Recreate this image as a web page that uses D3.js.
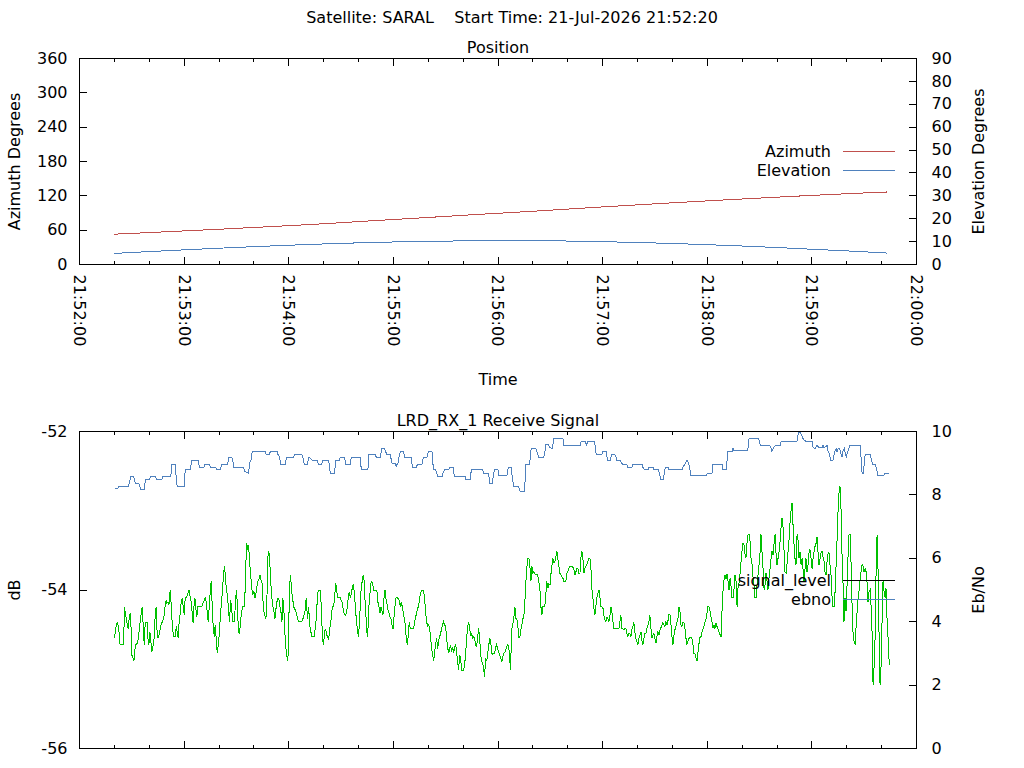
<!DOCTYPE html>
<html>
<head>
<meta charset="utf-8">
<script src="https://cdn.jsdelivr.net/npm/d3@7"></script>
<style>
  html, body { margin: 0; padding: 0; background: #fff; }
  svg { display: block; font-family: "DejaVu Sans", sans-serif; font-size: 16px; }
  .line { fill: none; stroke-width: 1; shape-rendering: crispEdges; }
  .tick line { stroke: #000; shape-rendering: crispEdges; }
  .frame { fill: none; stroke: #000; shape-rendering: crispEdges; }
</style>
</head>
<body>
<svg id="chart" width="1024" height="768"></svg>
<script>
const satellite = 'SARAL';
const startTime = '21-Jul-2026 21:52:20';
const receiver = 'LRD_RX_1';
const baseTime = new Date(2026, 6, 21, 21, 52, 0);
const timeDomain = [0, 480]; // seconds after 21:52:00

// pass geometry, seconds after 21:52:00
const posSeconds = [20, 40, 60, 80, 100, 120, 140, 160, 180, 200, 220, 240, 260, 280, 300, 320, 340, 360, 380, 400, 420, 440, 460, 463];
const azimuth = [53.0, 55.8, 58.7, 61.6, 64.7, 67.9, 71.2, 75.0, 78.6, 82.2, 86.0, 89.5, 93.0, 96.8, 100.6, 104.2, 107.8, 111.2, 114.5, 117.7, 120.8, 123.7, 126.3, 126.7];
const elevation = [4.85, 5.65, 6.39, 7.12, 7.79, 8.42, 8.98, 9.46, 9.84, 10.1, 10.33, 10.48, 10.48, 10.25, 9.96, 9.62, 9.19, 8.65, 8.08, 7.41, 6.67, 5.94, 5.15, 5.0];

// receive signal, [seconds after 21:52:00, value]
const signalLevel = [
  [20.1,-54.60],[21.0,-54.46],[21.6,-54.41],[22.4,-54.46],[23.0,-54.63],[23.3,-54.69],[25.3,-54.69],[25.8,-54.21],[26.4,-54.32],[27.0,-54.36],
  [27.4,-54.46],[27.9,-54.48],[28.5,-54.36],[29.1,-54.29],[29.5,-54.44],[30.0,-54.82],[30.8,-54.86],[31.2,-54.90],[31.6,-54.78],[32.3,-54.69],
  [33.3,-54.67],[33.9,-54.57],[34.6,-54.44],[35.4,-54.29],[36.0,-54.21],[36.5,-54.44],[37.1,-54.69],[37.7,-54.41],[39.0,-54.41],[39.2,-54.61],
  [39.8,-54.69],[40.4,-54.53],[40.9,-54.65],[41.5,-54.78],[42.1,-54.72],[42.8,-54.61],[43.4,-54.32],[44.0,-54.21],[44.6,-54.59],[45.3,-54.60],
  [45.9,-54.53],[46.9,-54.42],[47.6,-54.40],[48.4,-54.34],[49.2,-54.19],[49.7,-54.13],[50.1,-54.17],[50.7,-54.15],[51.3,-54.19],[51.6,-54.06],
  [52.2,-54.00],[52.6,-54.21],[53.2,-54.44],[53.9,-54.59],[54.9,-54.59],[55.5,-54.46],[56.0,-54.53],[56.6,-54.61],[57.0,-54.44],[57.8,-54.29],
  [58.3,-54.15],[58.9,-54.10],[59.5,-54.21],[60.1,-54.32],[60.6,-54.10],[61.4,-54.10],[62.2,-54.04],[62.9,-54.00],[63.5,-54.10],[64.1,-54.15],
  [64.6,-54.29],[65.2,-54.42],[65.6,-54.21],[66.2,-54.10],[66.7,-54.23],[67.3,-54.34],[67.9,-54.21],[68.5,-54.21],[70.2,-54.21],[71.1,-54.15],
  [72.1,-54.10],[72.7,-54.15],[73.2,-54.27],[73.8,-54.40],[74.4,-54.21],[75.0,-54.02],[75.5,-53.89],[76.1,-54.19],[76.7,-54.48],[77.3,-54.59],
  [77.8,-54.44],[78.4,-54.61],[79.0,-54.80],[79.6,-54.69],[80.1,-54.57],[80.7,-54.36],[81.5,-54.13],[82.0,-54.00],[82.6,-53.79],[83.2,-53.70],
  [83.8,-53.89],[84.3,-54.00],[84.9,-54.08],[85.5,-54.27],[86.1,-54.40],[86.6,-54.13],[87.2,-54.21],[87.8,-54.40],[88.9,-54.40],[89.5,-54.10],
  [90.1,-54.00],[90.6,-54.25],[91.2,-54.53],[91.8,-54.55],[92.4,-54.38],[92.9,-54.29],[93.5,-54.21],[94.7,-54.21],[95.2,-53.81],[95.8,-53.41],
  [96.4,-53.47],[97.0,-53.43],[97.5,-53.64],[98.1,-53.79],[98.9,-54.00],[99.4,-54.06],[100.0,-54.02],[100.6,-54.10],[101.2,-54.04],[101.7,-53.96],
  [102.3,-53.89],[102.9,-53.87],[103.5,-53.81],[104.0,-53.87],[104.6,-53.89],[105.2,-54.13],[105.7,-54.27],[106.3,-54.32],[106.9,-54.36],[107.5,-54.10],
  [108.0,-53.58],[108.6,-53.51],[109.2,-53.68],[109.8,-53.94],[110.3,-54.10],[110.9,-54.21],[111.5,-54.27],[112.1,-54.36],[112.6,-54.25],[113.2,-54.15],
  [113.8,-54.10],[114.4,-54.13],[114.9,-54.21],[115.5,-54.27],[116.1,-54.40],[116.6,-54.10],[117.2,-54.25],[117.8,-54.55],[118.4,-54.74],[118.9,-54.84],
  [119.5,-54.90],[119.9,-54.53],[120.5,-53.96],[121.0,-53.81],[121.6,-54.00],[122.2,-54.10],[122.8,-54.21],[123.7,-54.25],[124.7,-54.32],[125.6,-54.40],
  [126.6,-54.40],[127.5,-54.40],[128.5,-54.34],[129.5,-54.25],[130.0,-54.10],[130.4,-54.25],[130.8,-54.36],[131.4,-54.21],[132.0,-54.44],[132.7,-54.53],
  [133.3,-54.59],[134.6,-54.59],[135.2,-54.48],[135.8,-54.36],[136.4,-54.10],[136.9,-54.01],[138.1,-54.01],[138.6,-54.19],[139.2,-54.53],[139.8,-54.69],
  [140.4,-54.59],[140.9,-54.49],[141.5,-54.53],[142.1,-54.59],[142.7,-54.61],[143.2,-54.57],[143.8,-54.44],[144.4,-54.36],[145.0,-54.21],[145.7,-54.21],
  [146.3,-54.10],[146.9,-53.91],[147.4,-53.98],[148.0,-54.10],[149.5,-54.10],[150.5,-54.15],[151.1,-54.23],[151.6,-54.29],[152.4,-54.32],[153.0,-54.29],
  [153.6,-54.21],[154.1,-54.10],[154.7,-54.02],[155.3,-54.10],[155.9,-54.04],[156.4,-53.98],[157.0,-53.92],[157.6,-54.04],[158.2,-54.21],[158.7,-54.36],
  [159.3,-54.48],[159.9,-54.59],[160.4,-54.46],[161.0,-54.21],[161.6,-53.94],[162.2,-53.89],[162.7,-53.81],[163.3,-53.89],[163.9,-54.21],[164.5,-54.40],
  [165.0,-54.59],[165.6,-54.44],[166.2,-54.10],[166.8,-54.00],[167.3,-53.89],[168.1,-53.92],[168.7,-54.00],[169.6,-54.00],[170.6,-54.02],[171.1,-54.15],
  [171.7,-54.21],[172.3,-54.29],[172.9,-54.21],[173.4,-54.25],[174.0,-54.32],[174.6,-54.10],[175.2,-54.00],[175.7,-54.10],[176.3,-54.17],[176.9,-54.25],
  [177.5,-54.29],[178.0,-54.34],[178.6,-54.36],[179.2,-54.44],[179.8,-54.49],[180.3,-54.36],[180.9,-54.21],[181.5,-54.10],[182.4,-54.10],[183.4,-54.13],
  [184.0,-54.21],[184.5,-54.15],[185.1,-54.21],[185.7,-54.29],[186.3,-54.36],[186.8,-54.44],[187.4,-54.61],[188.0,-54.69],[188.5,-54.59],[189.1,-54.40],
  [189.7,-54.49],[191.6,-54.49],[192.2,-54.40],[192.8,-54.34],[193.3,-54.29],[193.9,-54.23],[194.5,-54.21],[195.0,-54.10],[195.6,-54.04],[196.2,-54.00],
  [197.3,-54.00],[197.9,-54.10],[198.5,-54.29],[199.1,-54.40],[199.6,-54.46],[200.2,-54.44],[200.8,-54.48],[201.4,-54.61],[201.9,-54.74],[202.5,-54.82],
  [203.1,-54.90],[203.7,-54.78],[204.2,-54.69],[204.8,-54.61],[205.4,-54.74],[205.9,-54.65],[206.5,-54.59],[207.1,-54.55],[207.7,-54.48],[208.2,-54.44],
  [208.8,-54.40],[209.4,-54.44],[210.0,-54.46],[210.5,-54.61],[211.1,-54.72],[211.7,-54.80],[212.3,-54.74],[212.8,-54.69],[213.4,-54.78],[214.0,-54.72],
  [214.6,-54.80],[215.1,-54.72],[215.7,-54.69],[216.3,-54.78],[216.8,-54.90],[217.4,-55.01],[218.0,-54.82],[218.6,-54.86],[219.1,-55.01],[220.3,-55.01],
  [220.9,-54.93],[221.4,-54.82],[222.0,-54.61],[222.6,-54.46],[223.2,-54.40],[223.7,-54.48],[224.3,-54.57],[224.9,-54.55],[225.4,-54.61],[226.0,-54.59],
  [226.6,-54.61],[227.2,-54.69],[227.7,-54.72],[228.3,-54.61],[228.9,-54.48],[229.5,-54.61],[230.0,-54.80],[230.6,-54.90],[231.2,-54.93],[231.8,-54.99],
  [232.3,-55.10],[232.9,-54.86],[233.5,-54.90],[234.1,-54.80],[234.6,-54.72],[235.2,-54.61],[235.8,-54.65],[236.4,-54.80],[236.9,-54.81],[237.5,-54.80],
  [238.1,-54.80],[238.6,-54.73],[239.2,-54.69],[239.8,-54.74],[240.4,-54.78],[240.9,-54.81],[241.5,-54.86],[242.2,-54.90],[242.8,-54.84],[243.4,-54.80],
  [244.1,-54.78],[244.9,-54.72],[245.7,-54.69],[246.2,-54.72],[246.8,-54.90],[247.2,-55.01],[247.6,-54.69],[248.0,-54.48],[248.5,-54.44],[249.1,-54.34],
  [249.7,-54.21],[250.3,-54.36],[250.8,-54.36],[251.4,-54.46],[252.0,-54.60],[252.5,-54.60],[253.1,-54.50],[253.7,-54.44],[254.3,-54.36],[254.8,-54.34],
  [255.4,-54.15],[256.0,-53.89],[256.6,-53.70],[257.1,-53.60],[257.7,-53.60],[258.3,-53.70],[258.9,-53.89],[259.4,-53.70],[260.0,-53.79],[260.6,-53.77],
  [261.2,-53.80],[262.3,-53.80],[262.9,-53.83],[263.4,-53.89],[264.0,-53.98],[264.6,-54.21],[265.2,-54.31],[265.7,-54.21],[266.3,-54.21],[266.9,-54.19],
  [267.5,-54.04],[268.0,-53.89],[268.6,-53.98],[269.2,-53.92],[269.8,-53.94],[270.3,-53.81],[270.9,-53.70],[271.5,-53.60],[272.1,-53.66],[272.6,-53.64],
  [273.2,-53.58],[273.8,-53.51],[274.3,-53.60],[274.9,-53.70],[275.5,-53.79],[276.1,-53.81],[276.6,-53.83],[277.2,-53.85],[277.8,-53.89],[278.9,-53.89],
  [279.5,-53.79],[280.1,-53.77],[280.7,-53.72],[281.2,-53.70],[282.4,-53.70],[283.5,-53.73],[284.1,-53.81],[284.7,-53.77],[285.2,-53.73],[285.8,-53.73],
  [286.4,-53.79],[287.0,-53.79],[287.5,-53.60],[288.1,-53.51],[288.7,-53.60],[289.3,-53.79],[289.8,-53.73],[290.4,-53.70],[291.0,-53.68],[291.6,-53.64],
  [292.1,-53.60],[292.7,-53.60],[293.3,-53.73],[293.8,-53.98],[294.4,-54.10],[295.0,-54.23],[295.6,-54.31],[296.1,-54.21],[296.7,-54.10],[297.3,-54.04],
  [297.9,-54.00],[298.4,-54.08],[299.0,-54.21],[299.6,-54.21],[300.2,-54.23],[300.7,-54.32],[301.3,-54.38],[301.9,-54.40],[302.5,-54.34],[303.0,-54.36],
  [303.6,-54.40],[304.2,-54.32],[304.7,-54.21],[305.3,-54.27],[305.9,-54.40],[306.5,-54.49],[309.3,-54.49],[309.9,-54.40],[310.5,-54.32],[311.1,-54.49],
  [311.6,-54.49],[312.2,-54.50],[312.8,-54.48],[313.4,-54.49],[313.9,-54.55],[314.5,-54.59],[315.1,-54.55],[315.6,-54.55],[316.2,-54.59],[316.8,-54.50],
  [317.4,-54.46],[317.9,-54.41],[318.5,-54.53],[319.1,-54.61],[319.7,-54.65],[320.2,-54.69],[320.8,-54.61],[321.4,-54.57],[322.0,-54.53],[322.5,-54.63],
  [323.1,-54.69],[323.7,-54.61],[324.2,-54.55],[324.8,-54.55],[325.4,-54.48],[326.0,-54.44],[326.5,-54.40],[327.1,-54.32],[327.7,-54.48],[328.3,-54.61],
  [328.8,-54.57],[329.4,-54.55],[330.0,-54.61],[330.6,-54.67],[331.1,-54.59],[331.7,-54.53],[332.3,-54.57],[332.9,-54.50],[333.4,-54.48],[334.0,-54.44],
  [334.6,-54.41],[335.1,-54.44],[335.7,-54.46],[336.3,-54.40],[336.9,-54.44],[337.4,-54.40],[338.0,-54.31],[338.6,-54.31],[339.2,-54.44],[339.7,-54.57],
  [340.3,-54.69],[340.9,-54.57],[341.5,-54.50],[342.0,-54.46],[342.6,-54.41],[343.2,-54.36],[343.8,-54.21],[344.3,-54.25],[344.9,-54.44],[345.5,-54.46],
  [346.0,-54.41],[346.6,-54.41],[347.2,-54.48],[347.8,-54.61],[348.3,-54.69],[348.9,-54.65],[349.5,-54.61],[350.1,-54.60],[350.6,-54.60],[351.2,-54.61],
  [351.8,-54.69],[352.4,-54.80],[352.9,-54.80],[353.6,-54.86],[354.1,-54.90],[354.7,-54.78],[355.3,-54.67],[355.8,-54.60],[356.4,-54.59],[357.0,-54.53],
  [357.6,-54.49],[358.1,-54.46],[358.7,-54.40],[359.3,-54.36],[359.9,-54.29],[360.4,-54.21],[361.0,-54.21],[361.6,-54.27],[362.2,-54.35],[362.7,-54.40],
  [363.3,-54.48],[363.9,-54.44],[364.4,-54.49],[365.0,-54.42],[365.6,-54.46],[366.2,-54.49],[366.7,-54.53],[367.3,-54.56],[367.9,-54.59],[368.5,-54.25],
  [369.0,-54.02],[369.6,-53.87],[370.2,-53.81],[370.8,-53.86],[371.3,-53.80],[371.9,-53.89],[372.5,-54.00],[373.1,-53.85],[373.6,-53.94],[374.2,-54.10],
  [374.8,-54.10],[375.3,-54.00],[375.9,-53.81],[376.5,-53.89],[377.1,-54.21],[377.6,-53.98],[378.2,-53.92],[378.8,-53.79],[379.4,-53.64],[379.9,-53.51],
  [380.5,-53.41],[381.1,-53.43],[381.7,-53.56],[382.2,-53.60],[382.8,-53.41],[383.4,-53.30],[384.0,-53.30],[384.5,-53.37],[385.1,-53.60],[385.7,-53.68],
  [386.2,-53.83],[386.8,-53.94],[387.4,-54.10],[388.0,-54.10],[388.5,-53.94],[389.1,-53.81],[389.7,-53.68],[390.3,-53.52],[390.8,-53.30],[391.4,-53.52],
  [392.0,-53.73],[392.6,-54.00],[393.1,-53.94],[393.7,-53.79],[394.3,-53.89],[394.8,-54.00],[395.4,-53.85],[396.0,-53.73],[396.6,-53.60],[397.1,-53.51],
  [397.7,-53.56],[398.3,-53.41],[398.9,-53.30],[399.4,-53.52],[400.0,-53.68],[400.6,-53.60],[401.2,-53.51],[401.7,-53.41],[402.3,-53.22],[402.9,-53.09],
  [403.5,-53.22],[404.0,-53.49],[404.6,-53.77],[405.2,-53.79],[405.7,-53.68],[406.3,-53.52],[406.9,-53.37],[407.5,-53.14],[408.0,-53.01],[408.6,-52.90],
  [409.2,-53.18],[409.8,-53.43],[410.3,-53.60],[410.9,-53.68],[411.5,-53.30],[412.1,-53.37],[412.6,-53.60],[413.2,-53.52],[413.8,-53.68],[414.4,-53.60],
  [414.9,-53.73],[415.5,-53.89],[416.1,-53.73],[416.6,-53.60],[417.2,-53.77],[417.8,-53.68],[418.4,-53.52],[418.9,-53.49],[419.5,-53.60],[420.1,-53.73],
  [420.7,-53.60],[421.2,-53.52],[421.8,-53.45],[422.4,-53.41],[423.0,-53.33],[423.5,-53.52],[424.1,-53.68],[424.7,-53.60],[425.3,-53.52],[425.8,-53.51],
  [426.4,-53.58],[427.0,-53.64],[427.5,-53.77],[428.1,-53.81],[428.7,-53.64],[429.3,-53.54],[429.8,-53.52],[430.4,-53.68],[431.0,-53.81],[431.6,-54.10],
  [432.1,-54.21],[432.7,-54.21],[433.3,-54.02],[433.9,-53.68],[434.4,-53.39],[435.0,-53.01],[435.6,-52.76],[436.1,-52.69],[436.7,-52.97],[437.3,-53.56],
  [437.9,-53.94],[438.4,-54.40],[439.0,-54.10],[439.6,-54.27],[440.2,-53.92],[440.7,-53.60],[441.3,-53.30],[441.9,-53.30],[442.5,-53.68],[443.0,-54.15],
  [443.6,-54.53],[444.2,-54.65],[444.8,-54.69],[445.3,-54.48],[445.9,-54.29],[446.5,-54.10],[447.0,-54.02],[447.6,-53.89],[448.2,-53.77],[448.8,-53.68],
  [449.3,-53.70],[449.9,-53.77],[450.5,-53.73],[451.1,-53.77],[451.6,-53.89],[452.2,-54.15],[452.8,-54.02],[453.4,-54.00],[453.9,-54.19],[454.5,-54.53],
  [455.1,-55.20],[455.7,-54.95],[456.2,-54.65],[456.8,-53.81],[457.4,-53.30],[457.9,-53.68],[458.5,-54.53],[459.1,-55.20],[459.7,-54.95],[460.2,-54.44],
  [460.8,-53.89],[461.4,-54.02],[462.0,-54.10],[462.5,-53.98],[463.1,-54.36],[463.7,-54.61],[464.3,-54.90],[464.6,-54.95]
];

const ebno = [
  [20.1,8.18],[22.0,8.21],[22.4,8.27],[28.1,8.27],[29.5,8.58],[31.0,8.58],[31.6,8.47],[32.0,8.37],[33.9,8.37],[34.6,8.31],
  [34.8,8.18],[37.3,8.18],[37.7,8.49],[40.2,8.49],[40.6,8.58],[43.4,8.58],[44.0,8.53],[44.4,8.49],[47.2,8.49],[47.8,8.58],
  [52.4,8.58],[52.8,8.97],[54.9,8.97],[55.5,8.53],[56.0,8.27],[60.1,8.27],[60.6,8.79],[63.5,8.79],[64.1,9.00],[64.6,9.10],
  [67.9,9.10],[68.5,8.95],[69.0,8.87],[71.3,8.87],[71.9,8.95],[74.6,8.95],[75.2,8.87],[78.2,8.87],[78.8,8.79],[80.9,8.79],
  [81.5,8.97],[84.9,8.97],[85.7,9.19],[87.4,9.19],[88.0,9.05],[88.5,8.87],[94.1,8.87],[94.9,8.74],[97.0,8.68],[97.5,9.00],
  [98.3,9.08],[99.1,9.37],[106.5,9.37],[107.1,9.28],[108.8,9.28],[109.6,9.38],[113.2,9.38],[113.8,9.28],[114.5,9.21],[115.5,8.97],
  [118.0,8.97],[118.8,9.19],[122.8,9.19],[123.3,9.28],[127.5,9.28],[128.1,9.19],[128.9,8.97],[130.8,8.97],[131.4,9.19],[132.3,9.16],
  [133.3,9.10],[136.2,9.10],[137.1,8.97],[139.0,8.97],[139.4,9.10],[142.9,9.10],[143.4,8.87],[143.8,8.68],[146.3,8.68],[146.9,9.10],
  [149.2,9.10],[149.5,9.19],[152.0,9.19],[152.6,8.97],[155.3,8.97],[155.9,9.19],[161.0,9.19],[161.6,8.79],[165.4,8.79],[166.0,9.28],
  [169.6,9.28],[170.2,9.19],[172.5,9.19],[173.1,9.37],[173.4,9.47],[175.0,9.47],[175.5,9.37],[176.3,9.28],[178.2,9.28],[178.6,9.16],
  [179.2,9.00],[181.1,9.00],[181.7,8.87],[182.0,8.97],[182.6,8.97],[183.2,9.19],[184.0,9.38],[185.9,9.38],[186.4,9.19],[190.1,9.19],
  [190.7,8.97],[191.2,8.87],[193.1,8.87],[193.9,8.97],[196.4,8.97],[196.9,9.10],[197.3,9.19],[199.3,9.19],[199.6,9.28],[200.2,9.38],
  [202.1,9.38],[202.7,8.97],[203.1,8.79],[204.2,8.79],[204.8,8.68],[205.6,8.58],[207.9,8.58],[208.4,8.68],[209.4,8.79],[211.7,8.79],
  [212.3,8.87],[214.2,8.87],[214.7,8.68],[215.3,8.58],[221.2,8.58],[221.6,8.49],[224.1,8.49],[224.7,8.79],[231.2,8.79],[231.8,8.68],
  [234.6,8.68],[235.2,8.37],[236.7,8.37],[237.5,8.68],[238.1,8.79],[240.0,8.79],[240.6,8.60],[245.1,8.60],[245.7,8.79],[246.0,8.87],
  [247.6,8.87],[248.0,8.63],[248.9,8.28],[251.4,8.28],[252.2,8.21],[252.7,8.10],[255.2,8.10],[255.6,8.53],[256.0,8.97],[258.1,8.97],
  [258.7,9.26],[259.0,9.47],[261.7,9.47],[262.3,9.37],[263.3,9.19],[266.3,9.19],[266.9,9.37],[267.5,9.58],[269.0,9.58],[269.6,9.49],
  [271.3,9.47],[271.9,9.77],[272.1,9.79],[277.2,9.79],[277.8,9.57],[287.2,9.57],[287.7,9.68],[290.0,9.68],[290.6,9.57],[291.6,9.68],
  [295.4,9.70],[295.8,9.49],[296.3,9.28],[299.6,9.28],[300.2,9.37],[302.1,9.37],[302.8,9.09],[304.4,9.09],[305.1,9.26],[306.8,9.28],
  [307.6,9.21],[308.2,9.09],[310.1,9.09],[311.1,8.99],[312.0,8.95],[313.9,8.95],[314.3,8.87],[316.8,8.87],[317.4,8.97],[322.5,8.97],
  [323.1,8.87],[324.1,8.79],[326.0,8.79],[326.4,8.87],[328.8,8.87],[329.6,8.79],[332.1,8.79],[332.7,8.63],[333.4,8.50],[335.0,8.50],
  [335.5,8.79],[336.1,8.87],[337.4,8.87],[338.2,8.79],[345.5,8.79],[346.0,8.87],[347.0,8.95],[348.3,9.10],[348.9,9.05],[349.9,8.89],
  [350.6,8.60],[359.5,8.60],[359.9,8.68],[362.7,8.68],[363.1,8.97],[368.5,8.97],[368.8,8.79],[371.0,8.79],[371.7,9.37],[374.2,9.37],
  [374.8,9.47],[375.2,9.41],[377.1,9.41],[377.6,9.39],[383.2,9.39],[383.8,9.74],[384.3,9.79],[389.5,9.79],[389.9,9.68],[390.5,9.57],
  [395.8,9.57],[396.6,9.47],[397.1,9.37],[398.1,9.49],[399.1,9.57],[401.9,9.57],[402.3,9.68],[402.9,9.70],[411.5,9.70],[411.9,9.84],
  [412.4,9.98],[413.4,9.98],[414.4,9.84],[415.3,9.74],[416.3,9.70],[420.1,9.70],[420.7,9.49],[422.0,9.47],[423.0,9.58],[423.9,9.49],
  [425.8,9.49],[426.4,9.58],[426.8,9.49],[428.7,9.55],[429.3,9.37],[430.2,9.28],[430.6,9.10],[432.1,9.10],[433.1,9.37],[433.9,9.45],
  [434.4,9.35],[435.0,9.45],[436.0,9.45],[436.7,9.28],[437.3,9.19],[437.9,9.39],[438.6,9.47],[439.2,9.31],[439.8,9.16],[440.2,9.31],
  [441.1,9.45],[441.7,9.56],[447.8,9.56],[448.2,9.16],[448.8,8.68],[449.7,8.68],[450.1,9.16],[450.7,9.28],[453.5,9.28],[454.1,9.10],
  [455.1,8.95],[456.4,8.95],[457.0,8.84],[457.9,8.60],[461.2,8.60],[461.8,8.68],[464.4,8.68]
];

const azTicks = [0, 60, 120, 180, 240, 300, 360];
const elTicks = [0, 10, 20, 30, 40, 50, 60, 70, 80, 90];
const dbTicks = [-56, -54, -52];
const ebnoTicks = [0, 2, 4, 6, 8, 10];

const colors = { azimuth: '#c0504d', elevation: '#4f81bd', signal: '#00c000', ebno: '#4f81bd' };

const left = 79.5, right = 916.5;
const pos = { top: 58.5, bottom: 264.5 };
const sig = { top: 431.5, bottom: 748.5 };
const midX = (left + right) / 2;

const svg = d3.select('#chart');

const at = s => new Date(baseTime.getTime() + s * 1000);
const x = d3.scaleTime().domain(timeDomain.map(at)).range([left, right]);

function plain(g) {
  g.select('.domain').remove();
  g.attr('font-family', null).attr('font-size', null);
}

function timeTicks(panel, withLabels) {
  const minor = x.ticks(d3.timeSecond.every(20)).filter(d => d.getSeconds() !== 0);
  const major = x.ticks(d3.timeMinute.every(1));
  const edge = (axis, y, values, size, fmt) => svg.append('g')
    .attr('transform', `translate(0,${y})`)
    .call(axis(x).tickValues(values).tickSize(-size).tickSizeOuter(0).offset(0).tickFormat(fmt || ''))
    .call(plain);

  edge(d3.axisTop, panel.top, minor, 3.75);
  edge(d3.axisTop, panel.top, major, 7.5);
  edge(d3.axisBottom, panel.bottom, minor, 3.75);
  edge(d3.axisBottom, panel.bottom, major, 7.5, withLabels ? d3.timeFormat('%H:%M:%S') : null)
    .selectAll('text')
    .attr('transform', 'rotate(90)')
    .attr('x', 10)
    .attr('y', 0)
    .attr('dy', '0.35em')
    .attr('text-anchor', 'start');
}

function valueAxis(axis, scale, values, xPos, pad) {
  svg.append('g')
    .attr('transform', `translate(${xPos},0)`)
    .call(axis(scale).tickValues(values).tickSize(-7.5).tickSizeOuter(0).tickPadding(pad).offset(0).tickFormat(String))
    .call(plain);
}

function frame(panel) {
  svg.append('rect')
    .attr('class', 'frame')
    .attr('x', left)
    .attr('y', panel.top)
    .attr('width', right - left)
    .attr('height', panel.bottom - panel.top);
}

function label(txt, px, py, rotate) {
  const t = svg.append('text')
    .attr('text-anchor', 'middle')
    .text(txt);
  if (rotate) t.attr('transform', `translate(${px},${py}) rotate(${rotate})`);
  else t.attr('x', px).attr('y', py);
  return t;
}

function legend(entries, y0) {
  entries.forEach(([name, color], i) => {
    const y = y0 + i * 19;
    svg.append('text')
      .attr('x', 831)
      .attr('y', y)
      .attr('dy', '0.36em')
      .attr('text-anchor', 'end')
      .text(name);
    svg.append('line')
      .attr('x1', 843).attr('x2', 895)
      .attr('y1', y).attr('y2', y)
      .attr('stroke', color)
      .style('shape-rendering', 'crispEdges');
  });
}

// titles
label(`Satellite: ${satellite}\u00a0\u00a0\u00a0\u00a0Start Time: ${startTime}`, 512, 23);
label('Position', midX, 52.5);
label(`${receiver} Receive Signal`, midX, 426);
label('Time', midX, 385);

// ---- position panel
const yAz = d3.scaleLinear().domain([0, 360]).range([pos.bottom, pos.top]);
const yEl = d3.scaleLinear().domain([0, 90]).range([pos.bottom, pos.top]);

const posData = posSeconds.map((s, i) => ({ t: at(s), az: azimuth[i], el: elevation[i] }));

svg.append('path')
  .datum(posData)
  .attr('class', 'line')
  .attr('stroke', colors.azimuth)
  .attr('d', d3.line().x(d => x(d.t)).y(d => yAz(d.az)));

svg.append('path')
  .datum(posData)
  .attr('class', 'line')
  .attr('stroke', colors.elevation)
  .attr('d', d3.line().x(d => x(d.t)).y(d => yEl(d.el)));

frame(pos);
timeTicks(pos, true);
valueAxis(d3.axisLeft, yAz, azTicks, left, 12);
valueAxis(d3.axisRight, yEl, elTicks, right, 15);
label('Azimuth Degrees', 20, (pos.top + pos.bottom) / 2, -90);
label('Elevation Degrees', 983.5, (pos.top + pos.bottom) / 2, -90);
legend([['Azimuth', colors.azimuth], ['Elevation', colors.elevation]], 151.5);

// ---- receive signal panel
const yDb = d3.scaleLinear().domain([-56, -52]).range([sig.bottom, sig.top]);
const yEb = d3.scaleLinear().domain([0, 10]).range([sig.bottom, sig.top]);

svg.append('path')
  .datum(ebno)
  .attr('class', 'line')
  .attr('stroke', colors.ebno)
  .attr('d', d3.line().x(d => x(at(d[0]))).y(d => yEb(d[1])));

svg.append('path')
  .datum(signalLevel)
  .attr('class', 'line')
  .attr('stroke', colors.signal)
  .attr('d', d3.line().x(d => x(at(d[0]))).y(d => yDb(d[1])));

frame(sig);
timeTicks(sig, false);
valueAxis(d3.axisLeft, yDb, dbTicks, left, 12);
valueAxis(d3.axisRight, yEb, ebnoTicks, right, 15);
label('dB', 20, (sig.top + sig.bottom) / 2, -90);
label('Eb/No', 983.5, (sig.top + sig.bottom) / 2, -90);
legend([['signal_level', '#000'], ['ebno', colors.ebno]], 580.5);
</script>
</body>
</html>
